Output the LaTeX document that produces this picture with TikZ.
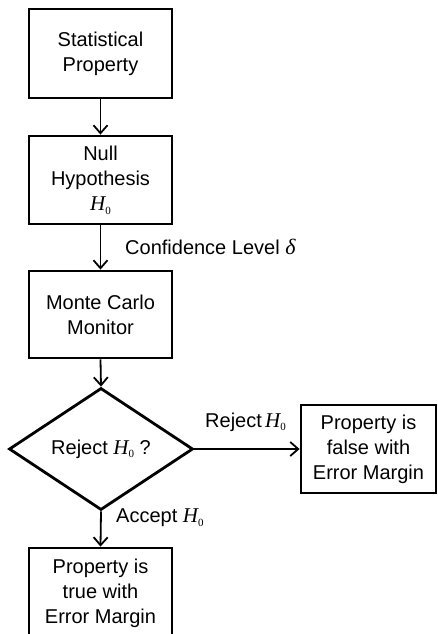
\documentclass[tikz,border=0pt]{standalone}
\usepackage{fontspec}
\setmainfont{Liberation Sans}
\newfontfamily\tms{Liberation Serif}
\usetikzlibrary{shapes.geometric,arrows.meta}
\newcommand\Hz{{\tms\itshape\fontsize{21}{25}\selectfont H}\raisebox{-0.35ex}{\tms\fontsize{11}{11}\selectfont 0}}
\begin{document}
\begin{tikzpicture}[x=1pt,y=-1pt,
  box/.style={draw,line width=2.8pt,minimum width=143pt,inner sep=0pt,align=center,
    font=\fontsize{20}{25}\selectfont},
  dec/.style={draw,diamond,line width=2.8pt,inner sep=0pt,minimum width=184pt,minimum height=122pt,
    font=\fontsize{20}{25}\selectfont},
  lbl/.style={inner sep=0pt,font=\fontsize{20}{25}\selectfont},
  arr/.style={line width=1.8pt,-{Straight Barb[length=8pt,width=14pt,line width=1.8pt]}}]
\useasboundingbox (0,0) rectangle (438,634);
\node[box,minimum height=89pt] (b1) at (100.5,53.5) {Statistical\\Property};
\node[box,minimum height=88pt] (b2) at (100.5,180) {Null\\Hypothesis\\\Hz};
\node[box,minimum height=87pt] (b3) at (100.5,314.5) {Monte Carlo\\Monitor};
\node[dec] (d) at (101,449) {Reject \Hz\ ?};
\node[box,minimum width=135pt,minimum height=88pt] (f) at (368.5,449) {Property is\\false with\\Error Margin};
\node[box,minimum height=90pt] (t) at (100.5,593) {Property is\\true with\\Error Margin};
\draw[arr] (b1.south) -- (b2.north);
\draw[arr] (b2.south) -- (b3.north);
\draw[arr] (b3.south) -- (d.north);
\draw[arr] (d.east) -- (f.west);
\draw[arr] (d.south) -- (t.north);
\node[lbl,anchor=west] (cl) at (125,247) {Confidence Level {\tms\itshape\fontsize{22}{25}\selectfont δ}};
\node[lbl,anchor=west] (rj) at (205,422) {Reject\,\Hz};
\node[lbl,anchor=west] (ac) at (116,518) {Accept \Hz};
\end{tikzpicture}
\end{document}
